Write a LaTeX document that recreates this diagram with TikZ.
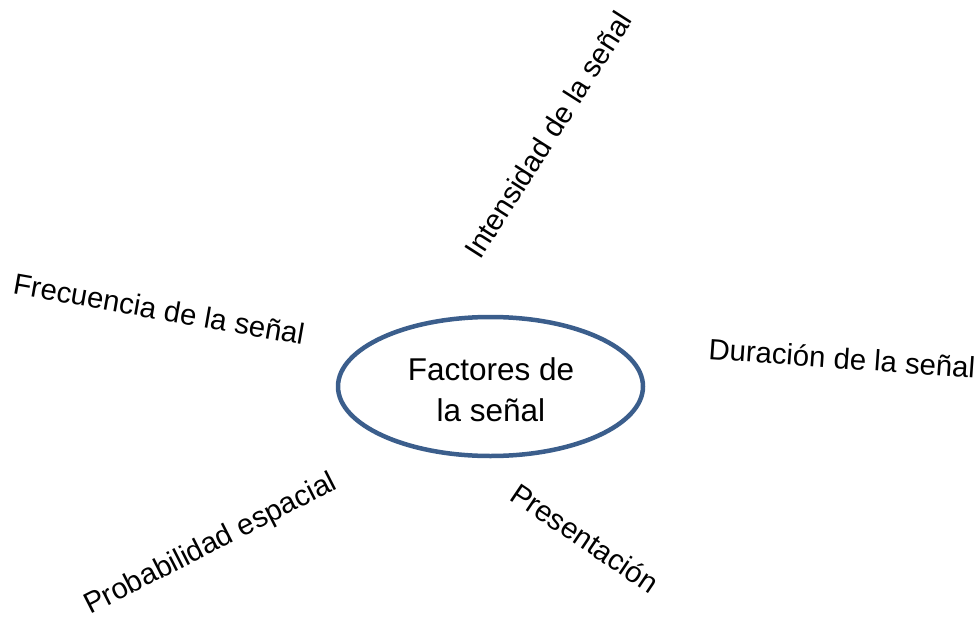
\documentclass[tikz,border=0pt]{standalone}
\usepackage{fontspec}
\setmainfont{Liberation Sans}
\usetikzlibrary{shapes.geometric}
\definecolor{ringblue}{RGB}{59,94,140}
\begin{document}
\begin{tikzpicture}[x=1pt,y=-1pt,
  lbl/.style={inner sep=0pt, font=\fontsize{29.3}{34}\selectfont},
  ring/.style={ellipse, draw=ringblue, line width=4.5pt, minimum width=305pt, minimum height=139pt, inner sep=0pt}]
\useasboundingbox (0,0) rectangle (980,621);
\node[ring] (core) at (490.5,386.5) {};
\node[inner sep=0pt, align=center, font=\fontsize{31.5}{41}\selectfont] (coretext) at (491,390) {Factores de\\la señal};
\node[lbl, rotate=57.5] (int) at (548,135) {Intensidad de la señal};
\node[lbl, rotate=-10] (fre) at (159,309) {Frecuencia de la señal};
\node[lbl, rotate=-4] (dur) at (842,358) {Duración de la señal};
\node[lbl, rotate=27] (pro) at (211,545) {Probabilidad espacial};
\node[lbl, rotate=-34] (pre) at (585,538) {Presentación};
\end{tikzpicture}
\end{document}
